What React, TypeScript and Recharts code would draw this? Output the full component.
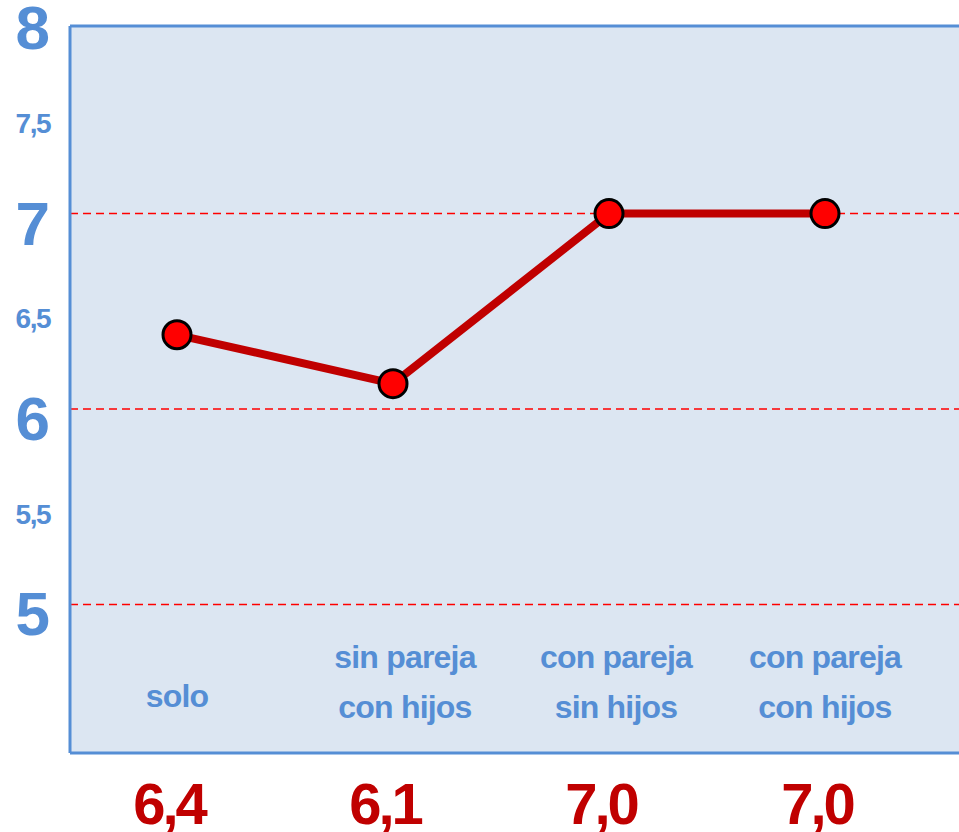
import { CartesianGrid, Line, LineChart, ReferenceLine, XAxis, YAxis } from "recharts";

const categories = ["solo", "sin pareja\ncon hijos", "con pareja\nsin hijos", "con pareja\ncon hijos"];
const scores = [6.38, 6.13, 7.0, 7.0];
const yTicks = [5, 5.5, 6, 6.5, 7, 7.5, 8];
const gridValues = [5, 6, 7];

const BLUE = "#558ed5";
const DARK_RED = "#c00000";
const FONT = "'Liberation Sans', Arial, sans-serif";

const data = categories.map((c, i) => ({ name: c, score: scores[i] }));

const fmt = (v: number) => v.toFixed(1).replace(".", ",");

function YTick(props: any) {
  const { x, y, payload } = props;
  const v = Number(payload.value);
  const big = Number.isInteger(v);
  return (
    <text
      x={x - 12}
      y={y}
      dy={big ? 31 : 17}
      textAnchor="end"
      fill={BLUE}
      fontFamily={FONT}
      fontWeight="bold"
      fontSize={big ? 62 : 28}
      letterSpacing={big ? 0 : -1.5}
    >
      {String(v).replace(".", ",")}
    </text>
  );
}

function XTick(props: any) {
  const { x, y, payload, index } = props;
  const lines = String(payload.value).split("\n");
  const top = lines.length > 1 ? y - 85 : y - 46;
  return (
    <g>
      {lines.map((l, i) => (
        <text
          key={i}
          x={x + (index === 1 ? 12 : index === 2 ? 7 : 0)}
          y={top + i * 50}
          textAnchor="middle"
          fill={BLUE}
          fontFamily={FONT}
          fontWeight="bold"
          fontSize={32}
          letterSpacing={-0.8}
        >
          {l}
        </text>
      ))}
      <text
        x={x - 8}
        y={y + 71}
        textAnchor="middle"
        fill={DARK_RED}
        fontFamily={FONT}
        fontWeight="bold"
        fontSize={58}
        letterSpacing={-3}
      >
        {fmt(scores[index])}
      </text>
    </g>
  );
}

export default function App() {
  return (
    <div style={{ position: "absolute", left: 0, top: 0, background: "#fff" }}>
      <LineChart
        width={959}
        height={832}
        data={data}
        margin={{ top: 26, right: 0, bottom: 0, left: 0 }}
      >
        <CartesianGrid horizontal={false} vertical={false} fill="#dce6f2" />
        <XAxis
          dataKey="name"
          interval={0}
          height={79}
          padding={{ left: 107, right: 134 }}
          tick={<XTick />}
          tickLine={false}
          tickSize={0}
          tickMargin={0}
          axisLine={{ stroke: BLUE, strokeWidth: 3 }}
        />
        <YAxis
          type="number"
          domain={[4.24, 7.96]}
          allowDataOverflow
          ticks={yTicks}
          interval={0}
          width={70}
          tick={<YTick />}
          tickLine={false}
          axisLine={{ stroke: BLUE, strokeWidth: 3 }}
        />
        {gridValues.map((g) => (
          <ReferenceLine key={g} y={g} stroke="#ff0000" strokeWidth={1.5} strokeDasharray="8 5" />
        ))}
        <ReferenceLine y={7.96} stroke={BLUE} strokeWidth={3} />
        <Line
          type="linear"
          dataKey="score"
          stroke={DARK_RED}
          strokeWidth={8}
          dot={{ r: 14, fill: "#ff0000", stroke: "#000", strokeWidth: 3 }}
          isAnimationActive={false}
        />
      </LineChart>
    </div>
  );
}
